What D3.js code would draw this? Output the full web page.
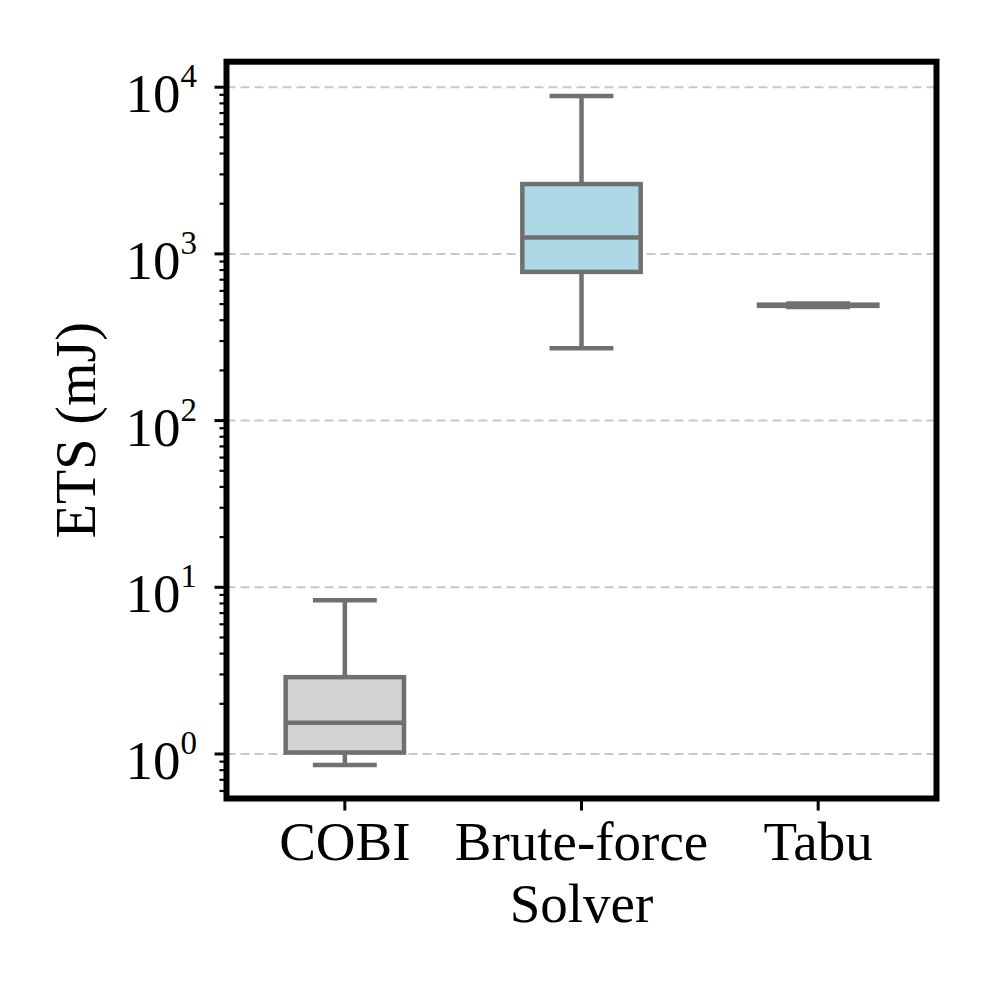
<!DOCTYPE html>
<html>
<head>
<meta charset="utf-8">
<script src="https://cdn.jsdelivr.net/npm/d3@7"></script>
<style>
  html, body { margin: 0; padding: 0; background: #fff; }
  svg { display: block; }
  text { font-family: "Liberation Serif", "Times New Roman", serif; fill: #000; }
</style>
</head>
<body>
<svg id="chart" width="996" height="996"></svg>
<script>
// ---- data ----
const categories = ["COBI", "Brute-force", "Tabu"];
const whiskerLow  = [0.86, 272, 480];
const quartile1   = [1.02, 780, 488];
const medians     = [1.54, 1253, 492];
const quartile3   = [2.89, 2624, 496];
const whiskerHigh = [8.36, 8870, 504];
const fillColors  = ["#d3d3d3", "#add8e6", "#f4c7a1"];
const yTickValues = [1, 10, 100, 1000, 10000];
const yTickExponents = ["0", "1", "2", "3", "4"];
const xLabel = "Solver";
const yLabel = "ETS (mJ)";

// ---- layout ----
const svg = d3.select("#chart");
const pLeft = 226.5, pRight = 936.5, pTop = 61.7, pBottom = 798.5;
const lineColor = "#707070";

const x = d3.scaleBand().domain(categories).range([pLeft, pRight]).paddingInner(0).paddingOuter(0);
const y = d3.scaleLog().domain([Math.pow(10, -0.267), Math.pow(10, 4.153)]).range([pBottom, pTop]);

// grid
svg.append("g").selectAll("line").data(yTickValues).join("line")
  .attr("x1", pLeft).attr("x2", pRight)
  .attr("y1", d => y(d)).attr("y2", d => y(d))
  .attr("stroke", "#c8c8c8").attr("stroke-width", 2)
  .attr("stroke-dasharray", "9,5");

// boxes
const boxW = x.bandwidth() * 0.5;
const capW = x.bandwidth() * 0.27;
const g = svg.append("g");
categories.forEach((c, i) => {
  const cx = x(c) + x.bandwidth() / 2;
  const gb = g.append("g");
  gb.append("line").attr("x1", cx).attr("x2", cx)
    .attr("y1", y(quartile3[i])).attr("y2", y(whiskerHigh[i]))
    .attr("stroke", lineColor).attr("stroke-width", 4.5);
  gb.append("line").attr("x1", cx).attr("x2", cx)
    .attr("y1", y(quartile1[i])).attr("y2", y(whiskerLow[i]))
    .attr("stroke", lineColor).attr("stroke-width", 4.5);
  [whiskerHigh[i], whiskerLow[i]].forEach(v => {
    gb.append("line").attr("x1", cx - capW / 2).attr("x2", cx + capW / 2)
      .attr("y1", y(v)).attr("y2", y(v))
      .attr("stroke", lineColor).attr("stroke-width", 4.5);
  });
  gb.append("rect")
    .attr("x", cx - boxW / 2).attr("width", boxW)
    .attr("y", y(quartile3[i])).attr("height", y(quartile1[i]) - y(quartile3[i]))
    .attr("fill", fillColors[i]).attr("stroke", lineColor).attr("stroke-width", 4.5);
  gb.append("line").attr("x1", cx - boxW / 2).attr("x2", cx + boxW / 2)
    .attr("y1", y(medians[i])).attr("y2", y(medians[i]))
    .attr("stroke", lineColor).attr("stroke-width", 4.5);
});

// minor ticks
const minorTicks = [];
const [d0, d1] = y.domain();
for (let e = -1; e <= 4; e++) {
  for (let m = 2; m <= 9; m++) {
    const v = m * Math.pow(10, e);
    if (v >= d0 && v <= d1) minorTicks.push(v);
  }
}
svg.append("g").selectAll("line").data(minorTicks).join("line")
  .attr("x1", pLeft - 7).attr("x2", pLeft)
  .attr("y1", d => y(d)).attr("y2", d => y(d))
  .attr("stroke", "#000").attr("stroke-width", 2.2);

// major y ticks
svg.append("g").selectAll("line").data(yTickValues).join("line")
  .attr("x1", pLeft - 12).attr("x2", pLeft)
  .attr("y1", d => y(d)).attr("y2", d => y(d))
  .attr("stroke", "#000").attr("stroke-width", 3);

// y tick labels
const yl = svg.append("g").selectAll("text").data(yTickValues).join("text")
  .attr("x", 197).attr("y", d => y(d) + 25)
  .attr("text-anchor", "end")
  .style("font-size", "55px");
yl.append("tspan").text("10");
yl.append("tspan").attr("dy", -25).style("font-size", "33px").text((d, i) => yTickExponents[i]);

// x ticks
svg.append("g").selectAll("line").data(categories).join("line")
  .attr("x1", d => x(d) + x.bandwidth() / 2).attr("x2", d => x(d) + x.bandwidth() / 2)
  .attr("y1", pBottom).attr("y2", pBottom + 12)
  .attr("stroke", "#000").attr("stroke-width", 3);
svg.append("g").selectAll("text").data(categories).join("text")
  .attr("x", d => x(d) + x.bandwidth() / 2).attr("y", 860)
  .attr("text-anchor", "middle").style("font-size", "55px")
  .text(d => d);

// axis labels
svg.append("text").attr("x", (pLeft + pRight) / 2).attr("y", 922)
  .attr("text-anchor", "middle").style("font-size", "55px").text(xLabel);
svg.append("text")
  .attr("transform", `translate(95,${(pTop + pBottom) / 2}) rotate(-90)`)
  .attr("text-anchor", "middle").style("font-size", "56px").text(yLabel);

// frame
svg.append("rect").attr("x", pLeft).attr("y", pTop)
  .attr("width", pRight - pLeft).attr("height", pBottom - pTop)
  .attr("fill", "none").attr("stroke", "#000").attr("stroke-width", 6);
</script>
</body>
</html>
